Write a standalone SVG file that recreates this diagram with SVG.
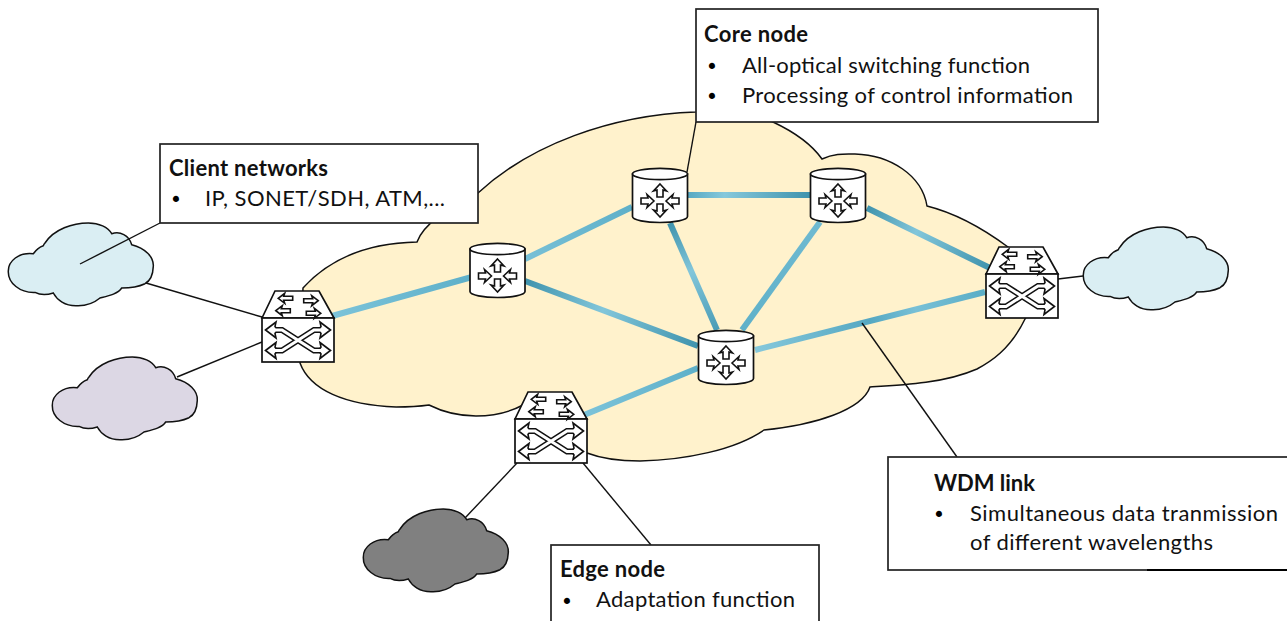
<svg xmlns="http://www.w3.org/2000/svg" xmlns:xlink="http://www.w3.org/1999/xlink" width="1287" height="621" viewBox="0 0 1287 621">
<style>
.thin{stroke:#111;stroke-width:1.4;fill:none}
.link{stroke-width:6;fill:none}
.box{fill:#fff;stroke:#222;stroke-width:1.7}
.cl{stroke:#111;stroke-width:1.5}
.t{font-family:"Lato","Liberation Sans",sans-serif;font-size:22px;fill:#111}
.b{font-weight:700}
.bu{font-family:"DejaVu Sans",sans-serif;font-size:21px;fill:#000}
.ar{fill:#fff;stroke:#111;stroke-width:1.6;stroke-linejoin:miter}
.nd{fill:#fff;stroke:#111;stroke-width:1.7}
.sb{fill:none;stroke:#111;stroke-width:6}
.sw{fill:none;stroke:#fff;stroke-width:3}
</style>
<defs>
<linearGradient id="g1" gradientUnits="userSpaceOnUse" x1="332" y1="316" x2="472" y2="277"><stop offset="0" stop-color="#7cc3d9"/><stop offset="1" stop-color="#5eb0c9"/></linearGradient>
<linearGradient id="g2" gradientUnits="userSpaceOnUse" x1="525" y1="259" x2="632" y2="207"><stop offset="0" stop-color="#78c0d6"/><stop offset="1" stop-color="#5eb0c9"/></linearGradient>
<linearGradient id="g3" gradientUnits="userSpaceOnUse" x1="525" y1="281" x2="698" y2="346"><stop offset="0" stop-color="#3f93ad"/><stop offset="0.45" stop-color="#82c6da"/><stop offset="1" stop-color="#3f93ad"/></linearGradient>
<linearGradient id="g4" gradientUnits="userSpaceOnUse" x1="688" y1="195" x2="810" y2="195"><stop offset="0" stop-color="#58a9c2"/><stop offset="0.3" stop-color="#86c8db"/><stop offset="1" stop-color="#3f93ad"/></linearGradient>
<linearGradient id="g5" gradientUnits="userSpaceOnUse" x1="670" y1="223" x2="717" y2="330"><stop offset="0" stop-color="#3f93ad"/><stop offset="0.45" stop-color="#82c6da"/><stop offset="1" stop-color="#4a9cb6"/></linearGradient>
<linearGradient id="g6" gradientUnits="userSpaceOnUse" x1="820" y1="222" x2="742" y2="330"><stop offset="0" stop-color="#6fbad1"/><stop offset="1" stop-color="#5fb1c9"/></linearGradient>
<linearGradient id="g7" gradientUnits="userSpaceOnUse" x1="867" y1="208" x2="990" y2="268"><stop offset="0" stop-color="#3f93ad"/><stop offset="0.4" stop-color="#82c6da"/><stop offset="1" stop-color="#3f93ad"/></linearGradient>
<linearGradient id="g8" gradientUnits="userSpaceOnUse" x1="755" y1="350" x2="985" y2="292"><stop offset="0" stop-color="#86c8db"/><stop offset="0.5" stop-color="#55a8c2"/><stop offset="0.7" stop-color="#78c0d6"/><stop offset="1" stop-color="#5aadc6"/></linearGradient>
<linearGradient id="g9" gradientUnits="userSpaceOnUse" x1="584" y1="415" x2="698" y2="368"><stop offset="0" stop-color="#7cc3d9"/><stop offset="1" stop-color="#5eb0c9"/></linearGradient>
<path id="cloud" d="M25.3,30.7 C28,27 31,24 35.3,22.7 C36,21 36.5,20.5 37,20 C46,6 65,0 80.3,0 C91,0 100,4 103.7,10.7 C112,8 121,12 123.7,21.7 C137,25 146,34 145.3,43.4 C145,52 142,58 137,60.7 C130,64 120,65 113.7,65 C110,71 100,73 92,75 C86,80 77,83 68.7,82.7 C57,83 49,77 45.3,70 C39,72 32,72 27,69.4 C12,70 0,60 0.3,48.4 C0,38 11,29 25.3,30.7 Z"/>
<polygon id="up" class="ar" points="0,-14 6.5,-7 3,-8 3,-1 -3,-1 -3,-8 -6.5,-7"/>
<g id="router">
<path class="nd" d="M-27.5,6 L-27.5,48.5 C-27.5,52 -14,54.5 0,54.5 C14,54.5 27.5,52 27.5,48.5 L27.5,6 Z"/>
<ellipse class="nd" cx="0" cy="6" rx="27.5" ry="5.6"/>
<g transform="translate(0,33)">
<use xlink:href="#up" href="#up" transform="translate(0,-3)"/>
<use xlink:href="#up" href="#up" transform="translate(0,2) rotate(180)"/>
<use xlink:href="#up" href="#up" transform="translate(20,0) rotate(-90)"/>
<use xlink:href="#up" href="#up" transform="translate(-20,0) rotate(90)"/>
</g>
</g>
<polygon id="sl" class="ar" points="-7.5,0 -1,-5 -2,-2 7,-2 7,2 -2,2 -1,5"/>
<polygon id="hd" class="ar" points="0,0 10.5,-8 9.5,-3.5 12,0 9.5,3.5 10.5,8"/>
<g id="edge">
<path class="nd" d="M0,27 L13,0 L57,0 L72,27 Z"/>
<rect class="nd" x="0" y="27" width="72" height="44"/>
<use xlink:href="#sl" href="#sl" transform="translate(23.7,7.3)"/>
<use xlink:href="#sl" href="#sl" transform="translate(21.3,19.7)"/>
<use xlink:href="#sl" href="#sl" transform="translate(48.7,9.7) scale(-1,1)"/>
<use xlink:href="#sl" href="#sl" transform="translate(51.3,22.3) scale(-1,1)"/>
<path class="sb" d="M12,39 L20,39 L52,59.5 L60,59.5 M12,59.5 L20,59.5 L52,39 L60,39"/>
<use xlink:href="#hd" href="#hd" transform="translate(3.5,39)"/>
<use xlink:href="#hd" href="#hd" transform="translate(3.5,59.5)"/>
<use xlink:href="#hd" href="#hd" transform="translate(68.5,39) scale(-1,1)"/>
<use xlink:href="#hd" href="#hd" transform="translate(68.5,59.5) scale(-1,1)"/>
<path class="sw" d="M10,39 L20,39 L52,59.5 L62,59.5 M10,59.5 L20,59.5 L52,39 L62,39"/>
</g>
</defs>

<g id="core-cloud">
<path fill="#fff2cc" stroke="#111" stroke-width="1.5" d="M303,288 C330,258 370,243 417,242 C423,225 450,205 478,193 C530,145 610,115 696,112 C720,110 755,113 773,122 C790,130 810,142 822,159 C835,153 845,154 855,154 C890,155 922,175 927,206 C955,213 985,230 1008,247 C1040,270 1040,300 1025,319 C1010,350 990,362 977,369 C945,383 905,385 870,387 C862,410 815,425 764,430 C735,450 685,460 640,461 C620,461 600,458 587,453 L560,440 L523,405 C510,412 495,416 476,416 C458,416 443,412 429,405 C415,407 405,407 396,407 C345,405 310,390 300,363 Z"/>
</g>

<g id="client-cloud-blue-left"><use xlink:href="#cloud" href="#cloud" class="cl" fill="#daeef3" transform="translate(8,223)"/></g>
<g id="client-cloud-purple"><use xlink:href="#cloud" href="#cloud" class="cl" fill="#dcd7e4" transform="translate(52,357)"/></g>
<g id="client-cloud-gray"><use xlink:href="#cloud" href="#cloud" class="cl" fill="#808080" transform="translate(363,509)"/></g>
<g id="client-cloud-blue-right"><use xlink:href="#cloud" href="#cloud" class="cl" fill="#daeef3" transform="translate(1083,227)"/></g>

<g id="connectors">
<path class="link" stroke="url(#g1)" d="M332,316 L472,277"/>
<path class="link" stroke="url(#g2)" d="M525,259 L632,207"/>
<path class="link" stroke="url(#g3)" d="M525,281 L698,346"/>
<path class="link" stroke="url(#g4)" d="M688,195 L810,195"/>
<path class="link" stroke="url(#g5)" d="M670,223 L717,330"/>
<path class="link" stroke="url(#g6)" d="M820,222 L742,330"/>
<path class="link" stroke="url(#g7)" d="M867,208 L990,268"/>
<path class="link" stroke="url(#g8)" d="M755,350 L985,292"/>
<path class="link" stroke="url(#g9)" d="M584,415 L698,368"/>
<path class="thin" d="M160,223 L80,264"/>
<path class="thin" d="M146,283 L262,317"/>
<path class="thin" d="M177,377 L262,342"/>
<path class="thin" d="M465,518 L517,463"/>
<path class="thin" d="M583,463 L651,545"/>
<path class="thin" d="M1058,279 L1083,276"/>
<path class="thin" d="M696,122 L687,172"/>
<path class="thin" d="M862,323 L957,457"/>
</g>

<g id="core-node-a"><use xlink:href="#router" href="#router" transform="translate(497.5,243)"/></g>
<g id="core-node-b"><use xlink:href="#router" href="#router" transform="translate(660,168)"/></g>
<g id="core-node-c"><use xlink:href="#router" href="#router" transform="translate(838,168)"/></g>
<g id="core-node-d"><use xlink:href="#router" href="#router" transform="translate(726,330)"/></g>
<g id="edge-node-left"><use xlink:href="#edge" href="#edge" transform="translate(262,291)"/></g>
<g id="edge-node-bottom"><use xlink:href="#edge" href="#edge" transform="translate(515,392)"/></g>
<g id="edge-node-right"><use xlink:href="#edge" href="#edge" transform="translate(986,247)"/></g>

<g id="label-client">
<rect class="box" x="160" y="144" width="318" height="79"/>
<text class="t b" x="169" y="176" textLength="159">Client networks</text>
<text class="bu" x="169.800" y="207">•</text>
<text class="t" x="205" y="206" textLength="240">IP, SONET/SDH, ATM,...</text>
</g>
<g id="label-core">
<rect class="box" x="696" y="9" width="402" height="113"/>
<text class="t b" x="704" y="42" textLength="104">Core node</text>
<text class="bu" x="705.800" y="74">•</text>
<text class="t" x="742" y="73" textLength="288">All-optical switching function</text>
<text class="bu" x="705.800" y="104">•</text>
<text class="t" x="742" y="103" textLength="331">Processing of control information</text>
</g>
<g id="label-wdm">
<rect class="box" x="888" y="457" width="420" height="113"/>
<path d="M1147,570 L1287,570" stroke="#000" stroke-width="2" fill="none"/>
<text class="t b" x="934" y="491" textLength="101">WDM link</text>
<text class="bu" x="932.800" y="522">•</text>
<text class="t" x="970" y="521" textLength="308">Simultaneous data tranmission</text>
<text class="t" x="970" y="550" textLength="243">of different wavelengths</text>
</g>
<g id="label-edge">
<rect class="box" x="551" y="545" width="268" height="90"/>
<text class="t b" x="560" y="577" textLength="105">Edge node</text>
<text class="bu" x="560.800" y="609">•</text>
<text class="t" x="596" y="607" textLength="199">Adaptation function</text>
</g>
</svg>
